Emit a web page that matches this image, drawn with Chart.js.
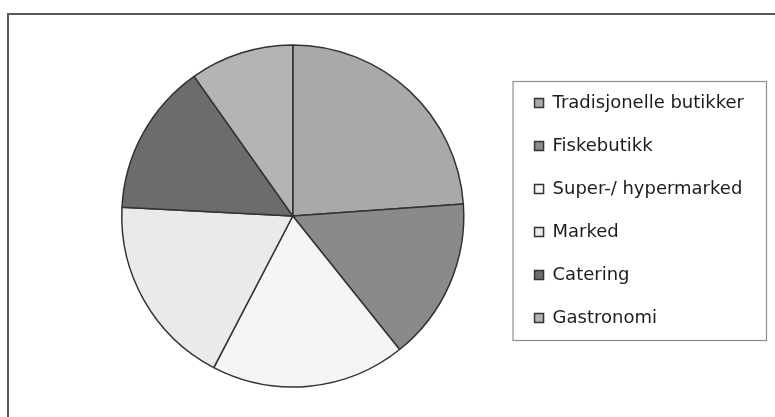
<!DOCTYPE html>
<html>
<head>
<meta charset="utf-8">
<script src="https://cdn.jsdelivr.net/npm/chart.js@4/dist/chart.umd.min.js"></script>
<style>
  body { margin: 0; background: #fff; }
  #wrap { position: relative; width: 775px; height: 417px; }
</style>
</head>
<body>
<div id="wrap"><canvas id="salesPie" width="775" height="417"></canvas></div>
<script>
// andel per salgskanal (lest av figuren, i prosent)
const channels = ['Tradisjonelle butikker', 'Fiskebutikk', 'Super-/ hypermarked', 'Marked', 'Catering', 'Gastronomi'];
const shares = [23.9, 15.4, 18.4, 18.2, 14.4, 9.8];
const sliceColors = ['#a9a9a9', '#8a8a8a', '#f5f5f5', '#eaeaea', '#6c6c6c', '#b4b4b4'];

// outer frame (only left + top edge visible in the reference)
const framePlugin = {
    id: 'frame',
    beforeDraw: function(chart) {
        const ctx = chart.ctx;
        ctx.save();
        ctx.fillStyle = '#fff';
        ctx.fillRect(0, 0, chart.width, chart.height);
        ctx.strokeStyle = '#5a5a5a';
        ctx.lineWidth = 2;
        ctx.beginPath();
        ctx.moveTo(8, chart.height);
        ctx.lineTo(8, 14);
        ctx.lineTo(chart.width, 14);
        ctx.stroke();
        ctx.restore();
    }
};

// box round the legend
const legendBoxPlugin = {
    id: 'legendBox',
    afterDraw: function(chart) {
        const lg = chart.legend;
        if (!lg || !lg.legendHitBoxes || !lg.legendHitBoxes.length) return;
        const hb = lg.legendHitBoxes;
        const first = hb[0];
        const last = hb[hb.length - 1];
        const left = first.left - 22;
        const top = first.top + first.height / 2 - 22;
        const bottom = last.top + last.height / 2 + 22;
        const right = lg.right + 12;
        const ctx = chart.ctx;
        ctx.save();
        ctx.strokeStyle = '#8c8c8c';
        ctx.lineWidth = 1.2;
        ctx.strokeRect(left + 0.5, top + 0.5, right - left, bottom - top);
        ctx.restore();
    }
};

new Chart(document.getElementById('salesPie').getContext('2d'), {
    type: 'pie',
    data: {
        labels: channels,
        datasets: [{
            data: shares,
            backgroundColor: sliceColors,
            borderColor: '#333',
            borderWidth: 1.5,
            clip: false
        }]
    },
    options: {
        responsive: false,
        animation: false,
        radius: 171,
        layout: {
            padding: { left: 76, right: 21, top: 69, bottom: 54 }
        },
        plugins: {
            legend: {
                position: 'right',
                align: 'start',
                labels: {
                    boxWidth: 9,
                    boxHeight: 9,
                    padding: 25,
                    color: '#1c1c1c',
                    font: {
                        family: 'DejaVu Sans',
                        size: 18
                    }
                }
            },
            tooltip: { enabled: false }
        }
    },
    plugins: [framePlugin, legendBoxPlugin]
});
</script>
</body>
</html>
